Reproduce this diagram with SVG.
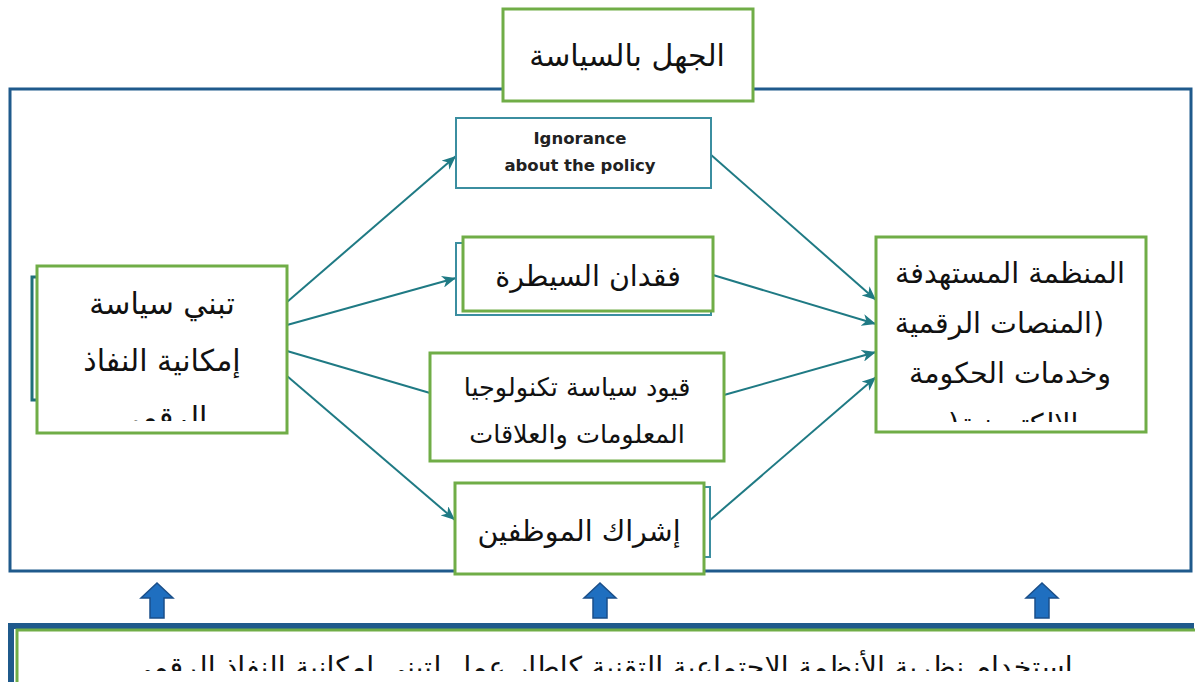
<svg xmlns="http://www.w3.org/2000/svg" width="1195" height="682" viewBox="0 0 1195 682">
<style>
.frame{fill:none;stroke:#1f5a8c;stroke-width:3}
.gbox{fill:#fff;stroke:#70ad47;stroke-width:3}
.tbox{fill:#fff;stroke:#3b8ea0;stroke-width:2}
.ar{font-family:"DejaVu Sans",sans-serif;font-size:30px;fill:#111;text-anchor:middle}
.ar2{font-size:28.5px}
.st{text-anchor:start}
.ed{text-anchor:end}
.en{font-family:"DejaVu Sans",sans-serif;font-weight:bold;font-size:16.5px;fill:#222;text-anchor:middle}
.conn{stroke:#1f7a84;stroke-width:2;fill:none}
.blk{fill:#1f6fc0;stroke:#1a4f8a;stroke-width:1.5}
</style>
<defs>
<marker id="ah" markerUnits="userSpaceOnUse" markerWidth="16" markerHeight="12" refX="14" refY="6" orient="auto">
<path d="M0,0 L14,6 L0,12 L4,6 z" fill="#1f7a84"/>
</marker>
<clipPath id="cl"><rect x="37" y="266" width="250" height="155"/></clipPath>
<clipPath id="cr"><rect x="876" y="237" width="270" height="185"/></clipPath>
<clipPath id="cb"><rect x="0" y="630" width="1195" height="41"/></clipPath>
</defs>
<rect class="frame" x="10" y="89" width="1181" height="482"/>
<g id="connectors">
<line class="conn" x1="287" y1="302" x2="456" y2="156" marker-end="url(#ah)"/>
<line class="conn" x1="287" y1="325" x2="456" y2="278" marker-end="url(#ah)"/>
<line class="conn" x1="287" y1="351" x2="430" y2="393"/>
<line class="conn" x1="287" y1="376" x2="455" y2="520" marker-end="url(#ah)"/>
<line class="conn" x1="710" y1="154" x2="876" y2="300" marker-end="url(#ah)"/>
<line class="conn" x1="713" y1="275" x2="876" y2="324" marker-end="url(#ah)"/>
<line class="conn" x1="724" y1="395" x2="876" y2="352" marker-end="url(#ah)"/>
<line class="conn" x1="709" y1="521" x2="876" y2="377" marker-end="url(#ah)"/>
</g>
<g id="n-ignorance-ar">
<rect class="gbox" x="503" y="9" width="250" height="92"/>
<text class="ar" x="627" y="66">الجهل بالسياسة</text>
</g>
<g id="n-ignorance-en">
<rect class="tbox" x="456" y="118" width="255" height="70"/>
<text class="en" x="580" y="144">Ignorance</text>
<text class="en" x="580" y="171">about the policy</text>
</g>
<g id="n-control">
<rect class="tbox" x="456" y="243" width="255" height="72"/>
<rect class="gbox" x="463" y="237" width="250" height="74"/>
<text class="ar ar2" x="588" y="286">فقدان السيطرة</text>
</g>
<g id="n-left">
<rect fill="#fff" stroke="#1f6f7a" stroke-width="3" x="32" y="277" width="250" height="123"/>
<rect class="gbox" x="37" y="266" width="250" height="167"/>
<g clip-path="url(#cl)">
<text class="ar" x="162" y="314">تبني سياسة</text>
<text class="ar" x="162" y="371">إمكانية النفاذ</text>
<text class="ar" x="162" y="428">الرقمي</text>
</g>
</g>
<g id="n-tech">
<rect class="gbox" x="430" y="353" width="294" height="108"/>
<text class="ar" x="577" y="396" style="font-size:25.5px">قيود سياسة تكنولوجيا</text>
<text class="ar" x="577" y="443" style="font-size:25.5px">المعلومات والعلاقات</text>
</g>
<g id="n-staff">
<rect class="tbox" x="460" y="487" width="250" height="70"/>
<rect class="gbox" x="455" y="483" width="249" height="91"/>
<text class="ar ar2" x="579" y="541">إشراك الموظفين</text>
</g>
<g id="n-target">
<rect class="gbox" x="876" y="237" width="270" height="195"/>
<g clip-path="url(#cr)">
<text class="ar ar2" x="1010" y="283">المنظمة المستهدفة</text>
<text class="ar ar2 ed" x="1092" y="333">المنصات الرقمية</text>
<text class="ar ar2 st" x="1093" y="333">)</text>
<text class="ar ar2" x="1010" y="383">وخدمات الحكومة</text>
<text class="ar ar2 st" x="960" y="434">الإلكترونية</text>
<text class="ar ar2 ed" x="959" y="434">)</text>
</g>
</g>
<g id="up-arrows">
<path class="blk" d="M157,583 L173,598 L164,598 L164,618 L150,618 L150,598 L141,598 Z"/>
<path class="blk" d="M600,583 L616,598 L607,598 L607,618 L593,618 L593,598 L584,598 Z"/>
<path class="blk" d="M1042,583 L1058,598 L1049,598 L1049,618 L1035,618 L1035,598 L1026,598 Z"/>
</g>
<g id="n-bottom">
<rect fill="#fff" stroke="#1f5a8c" stroke-width="6" x="11" y="626" width="1180" height="80"/>
<rect fill="#fff" stroke="#70ad47" stroke-width="3" x="17" y="630" width="1190" height="80"/>
<g clip-path="url(#cb)">
<text class="ar ar2" x="601" y="677">استخدام نظرية الأنظمة الاجتماعية التقنية كاطار عمل لتبني إمكانية النفاذ الرقمي</text>
</g>
</g>
</svg>
